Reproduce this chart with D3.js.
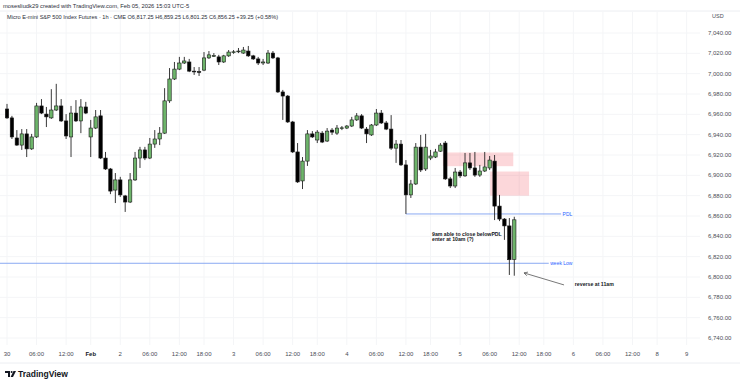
<!DOCTYPE html>
<html>
<head>
<meta charset="utf-8">
<script src="https://cdn.jsdelivr.net/npm/d3@7"></script>
<style>
  body { margin: 0; background: #fff; }
  svg { display: block; font-family: "Liberation Sans", Arial, sans-serif; }
</style>
</head>
<body>
<div id="chart"></div>
<script>
// MES 1h candles, Jan 30 00:00 -> Feb 5 11:00 (bar index 0..103)
var opens = [6965.25, 6956.5, 6936.75, 6929.75, 6940.75, 6926, 6937.75, 6968.25, 6960.25, 6956.5,
  6964.25, 6968.25, 6953.5, 6937.75, 6961.25, 6953.5, 6967.25, 6937.75, 6946.5, 6958.5,
  6917, 6906.25, 6885.5, 6895.5, 6879.75, 6873.75, 6895.5, 6917, 6925, 6917,
  6930.75, 6935.75, 6941.5, 6973.25, 6994.75, 7004.5, 7010.5, 7011.5, 7002.5, 7002,
  7003.5, 7015.5, 7017.5, 7016.5, 7011.5, 7017.5, 7021.25, 7021.5, 7020.25, 7022.25,
  7017.5, 7014.5, 7010.5, 7010.5, 7020.25, 7015.5, 6982, 6978, 6952.5, 6923,
  6894.5, 6914, 6940.75, 6934.75, 6941.5, 6933.75, 6944.5, 6941.5, 6946.5, 6946.5,
  6948.5, 6954.5, 6958.5, 6945.5, 6939.75, 6949.5, 6961.25, 6951.5, 6945.5, 6926.75,
  6930.75, 6910.25, 6880.75, 6891.5, 6927.75, 6906.25, 6917, 6918, 6923.75, 6931.75,
  6896.5, 6889.5, 6903.25, 6899.5, 6912.25, 6907.25, 6900.25, 6904.25, 6907.25, 6914,
  6869.75, 6857, 6850.25, 6817.25]
var highs = [6970.25, 6958.5, 6944.5, 6945.5, 6945.5, 6940.75, 6971.25, 6975, 6967.25, 6984.75,
  6990, 6975, 6960.25, 6968.25, 6974, 6975, 6972.25, 6954.5, 6964.25, 6964.25,
  6923, 6907.25, 6902.25, 6898.5, 6880.75, 6902.25, 6923, 6928, 6928, 6936.75,
  6944.5, 6947.5, 6985.75, 7005.5, 7011.5, 7016.5, 7016.5, 7014.5, 7006.5, 7006.5,
  7021.25, 7022.25, 7020.25, 7018.5, 7018.5, 7023.25, 7023.25, 7025.25, 7026.25, 7027.25,
  7018.5, 7016.5, 7014.5, 7023.25, 7022.25, 7016.5, 6984, 6979, 6953.5, 6931.75,
  6918, 6944.5, 6943.5, 6944.5, 6943.5, 6946.5, 6946.5, 6949.5, 6948.5, 6949.5,
  6957.5, 6961.25, 6960.25, 6947.5, 6950.5, 6965.25, 6964.25, 6953.5, 6959.25, 6934.75,
  6934.75, 6915, 6895.5, 6931.75, 6939.75, 6940.75, 6925, 6926, 6931.75, 6933.75,
  6898.5, 6907.25, 6905.25, 6922, 6922, 6923, 6910.25, 6923, 6919, 6920,
  6880.75, 6858, 6858, 6859.25]
var lows = [6955.5, 6935.75, 6929, 6925, 6918, 6925, 6936.75, 6960.25, 6947.5, 6955.5,
  6963.25, 6952.5, 6935.75, 6918, 6952.5, 6941.5, 6960.25, 6918, 6945.5, 6916,
  6905.25, 6881.5, 6872.75, 6878.75, 6864, 6872.75, 6894.5, 6907.25, 6915, 6916,
  6927, 6929.75, 6940.75, 6971.25, 6993.75, 7003.5, 7009.5, 7001.5, 6998.75, 6997.75,
  7002.5, 7014.5, 7016.5, 7008.5, 7010.5, 7016.5, 7019.5, 7020.25, 7019.5, 7016.5,
  7013.5, 7008.5, 7008.5, 7009.5, 7014.5, 6981, 6954.5, 6951.5, 6922, 6892.5,
  6886.5, 6909.25, 6936.75, 6931.75, 6931.75, 6932.75, 6939.75, 6939.75, 6944.5, 6945.5,
  6947.5, 6953.5, 6945.5, 6931.75, 6938.75, 6948.5, 6950.5, 6944.5, 6925, 6912.25,
  6909.25, 6862, 6877.75, 6890.5, 6903.25, 6904.25, 6915, 6917, 6923, 6895.5,
  6887.5, 6887.5, 6897.5, 6898.5, 6905.25, 6898.5, 6898.5, 6903.25, 6905.25, 6856,
  6855, 6836.5, 6802, 6801.25]
var closes = [6956.5, 6937.75, 6929.75, 6940.75, 6926, 6937.75, 6968.25, 6961.25, 6957.5, 6964.25,
  6968.25, 6953.5, 6938.75, 6961.25, 6953.5, 6967.25, 6961.25, 6946.5, 6957.5, 6917,
  6906.25, 6884.5, 6895.5, 6880.75, 6873.75, 6895.5, 6917, 6925, 6917, 6930.75,
  6935.75, 6941.5, 6973.25, 6994.75, 7004.5, 7010.5, 7012.5, 7002.5, 7002, 7001.5,
  7015.5, 7018.5, 7017.75, 7011.5, 7017.5, 7021.25, 7021.5, 7022.25, 7023.25, 7017.5,
  7014.5, 7010.5, 7011.5, 7020.25, 7015.5, 6982, 6978, 6952.5, 6923, 6893.5,
  6914, 6940.75, 6937.75, 6942.5, 6932.75, 6943.5, 6942.5, 6946.5, 6946.75, 6948.5,
  6954.5, 6958.5, 6946.5, 6940.75, 6949.5, 6961.25, 6951.5, 6945.5, 6926.75, 6930.75,
  6910.25, 6880.75, 6891.5, 6927.75, 6905.25, 6927.75, 6919, 6923, 6929.75, 6896.5,
  6889.5, 6903.25, 6899.5, 6912.25, 6907.25, 6900.25, 6904.25, 6908.25, 6915, 6869.75,
  6857, 6850.25, 6817, 6856.25]

// time axis: bar index of each label
var timeTickIdx = [0, 6, 12, 17, 23, 29, 35, 40, 46, 52, 58, 63, 69, 75, 81, 86, 92, 98, 104, 109, 115, 121, 127, 132, 138]
var timeTickLabels = ["30", "06:00", "12:00", "Feb", "2", "06:00", "12:00", "18:00", "3", "06:00", "12:00", "18:00",
  "4", "06:00", "12:00", "18:00", "5", "06:00", "12:00", "18:00", "6", "06:00", "12:00", "8", "9"]
var priceTicks = d3.range(6740, 7041, 20)

// drawings (bar index / price)
var pdlLevel = 6862, pdlFrom = 81, pdlTo = 112.5
var weekLow = 6813.5, weekLowTo = 110
var zonesX0 = [88.5, 98.1], zonesX1 = [102.8, 106], zonesTop = [6922.5, 6903.75], zonesBottom = [6909, 6880]

var width = 740, height = 386

var x = d3.scaleLinear().domain([0, 138]).range([7, 7 + 138 * 4.925])
var y = d3.scaleLinear().domain([6740, 7040]).range([338, 33])

var svg = d3.select("#chart")
  .append("svg")
    .attr("width", width)
    .attr("height", height)

// frame
svg.append("line").attr("x1", 0).attr("x2", width).attr("y1", 11).attr("y2", 11).attr("stroke", "#eceef2")
svg.append("line").attr("x1", 0).attr("x2", width).attr("y1", 363).attr("y2", 363).attr("stroke", "#eceef2")

// grid
svg.append("g")
  .selectAll("line")
  .data(priceTicks)
  .enter()
  .append("line")
    .attr("x1", 0).attr("x2", 700)
    .attr("y1", function(d) { return y(d) }).attr("y2", function(d) { return y(d) })
    .attr("stroke", "#f4f5f7")
svg.append("g")
  .selectAll("line")
  .data(timeTickIdx)
  .enter()
  .append("line")
    .attr("x1", function(d) { return x(d) }).attr("x2", function(d) { return x(d) })
    .attr("y1", 12).attr("y2", 345)
    .attr("stroke", "#f4f5f7")

// price scale
svg.append("g")
  .selectAll("text")
  .data(priceTicks)
  .enter()
  .append("text")
    .attr("x", 708)
    .attr("y", function(d) { return y(d) })
    .attr("dy", "0.35em")
    .attr("font-size", "6px")
    .attr("fill", "#4a4d57")
    .text(function(d) { return d3.format(",.2f")(d) })
svg.append("text").attr("x", 712).attr("y", 18).attr("font-size", "5.5px").attr("fill", "#4a4d57").text("USD")

// time scale
svg.append("g")
  .selectAll("text")
  .data(timeTickIdx)
  .enter()
  .append("text")
    .attr("x", function(d) { return x(d) })
    .attr("y", 356)
    .attr("text-anchor", "middle")
    .attr("font-size", "6px")
    .attr("font-weight", function(d, i) { return timeTickLabels[i] == "Feb" ? "bold" : "normal" })
    .attr("fill", function(d, i) { return timeTickLabels[i] == "Feb" ? "#131722" : "#4a4d57" })
    .text(function(d, i) { return timeTickLabels[i] })

// zones
svg.append("g")
  .selectAll("rect")
  .data(zonesX0)
  .enter()
  .append("rect")
    .attr("x", function(d) { return x(d) })
    .attr("width", function(d, i) { return x(zonesX1[i]) - x(d) })
    .attr("y", function(d, i) { return y(zonesTop[i]) })
    .attr("height", function(d, i) { return y(zonesBottom[i]) - y(zonesTop[i]) })
    .attr("fill", "rgba(242,54,69,0.2)")

// levels
svg.append("line")
  .attr("x1", 0).attr("x2", x(weekLowTo))
  .attr("y1", y(weekLow)).attr("y2", y(weekLow))
  .attr("stroke", "#7d9ff0").attr("stroke-width", 0.9)
svg.append("text").attr("x", x(weekLowTo) + 1.5).attr("y", y(weekLow)).attr("dy", "0.35em")
  .attr("font-size", "5px").attr("fill", "#2962ff").text("week Low")
svg.append("line")
  .attr("x1", x(pdlFrom)).attr("x2", x(pdlTo))
  .attr("y1", y(pdlLevel)).attr("y2", y(pdlLevel))
  .attr("stroke", "#7d9ff0").attr("stroke-width", 0.9)
svg.append("text").attr("x", x(pdlTo) + 1.5).attr("y", y(pdlLevel)).attr("dy", "0.35em")
  .attr("font-size", "5px").attr("fill", "#2962ff").text("PDL")

// candles
var bars = d3.range(opens.length)
var bw = 3.4
var candle = svg.append("g")
  .selectAll("g")
  .data(bars)
  .enter()
  .append("g")
candle.append("line")
  .attr("x1", function(i) { return x(i) }).attr("x2", function(i) { return x(i) })
  .attr("y1", function(i) { return y(highs[i]) }).attr("y2", function(i) { return y(lows[i]) })
  .attr("stroke", "#222").attr("stroke-width", 0.9)
candle.append("rect")
  .attr("x", function(i) { return x(i) - bw / 2 })
  .attr("width", bw)
  .attr("y", function(i) { return y(Math.max(opens[i], closes[i])) })
  .attr("height", function(i) { return Math.max(0.8, Math.abs(y(opens[i]) - y(closes[i]))) })
  .attr("fill", function(i) { return closes[i] >= opens[i] ? "#6db46a" : "#000" })
  .attr("stroke", "#1a1a1a").attr("stroke-width", 0.6)

// notes
svg.append("text").attr("x", x(86.3)).attr("y", y(6842)).attr("dy", "0.35em")
  .attr("font-size", "5.2px").attr("font-weight", "bold").attr("fill", "#131722")
  .text("9am able to close belowPDL")
svg.append("text").attr("x", x(86.3)).attr("y", y(6837)).attr("dy", "0.35em")
  .attr("font-size", "5.2px").attr("font-weight", "bold").attr("fill", "#131722")
  .text("enter at 10am (?)")
svg.append("text").attr("x", x(115.3)).attr("y", y(6792.6)).attr("dy", "0.35em")
  .attr("font-size", "5.2px").attr("font-weight", "bold").attr("fill", "#131722")
  .text("reverse at 11am")

// arrow
var ax0 = x(113.1), ay0 = y(6792.2), ax1 = x(104.98), ay1 = y(6804)
var ang = Math.atan2(ay1 - ay0, ax1 - ax0)
svg.append("line").attr("x1", ax0).attr("y1", ay0).attr("x2", ax1).attr("y2", ay1)
  .attr("stroke", "#555").attr("stroke-width", 0.8)
svg.append("path")
  .attr("d", "M" + (ax1 - 4 * Math.cos(ang - 0.5)) + "," + (ay1 - 4 * Math.sin(ang - 0.5)) +
    "L" + ax1 + "," + ay1 +
    "L" + (ax1 - 4 * Math.cos(ang + 0.5)) + "," + (ay1 - 4 * Math.sin(ang + 0.5)))
  .attr("fill", "none").attr("stroke", "#555").attr("stroke-width", 0.8)

// header
svg.append("text").attr("x", 3).attr("y", 8).attr("font-size", "5.8px").attr("fill", "#2a2e39")
  .text("mosesliudk29 created with TradingView.com, Feb 05, 2026 15:03 UTC-5")
svg.append("text").attr("x", 7).attr("y", 19).attr("font-size", "5.6px").attr("fill", "#2a2e39")
  .text("Micro E-mini S&P 500 Index Futures · 1h · CME  O6,817.25  H6,859.25  L6,801.25  C6,856.25  +39.25 (+0.58%)")

// logo
var logo = svg.append("g").attr("transform", "translate(5,371)")
logo.append("path").attr("d", "M0,0H5V6H3V2H0Z").attr("fill", "#131722")
logo.append("circle").attr("cx", 6.6).attr("cy", 1).attr("r", 1).attr("fill", "#131722")
logo.append("path").attr("d", "M8.5,0H11L8,6H5.6Z").attr("fill", "#131722")
svg.append("text").attr("x", 18).attr("y", 377).attr("font-size", "8.5px").attr("font-weight", "bold")
  .attr("fill", "#131722").text("TradingView")
</script>
</body>
</html>
